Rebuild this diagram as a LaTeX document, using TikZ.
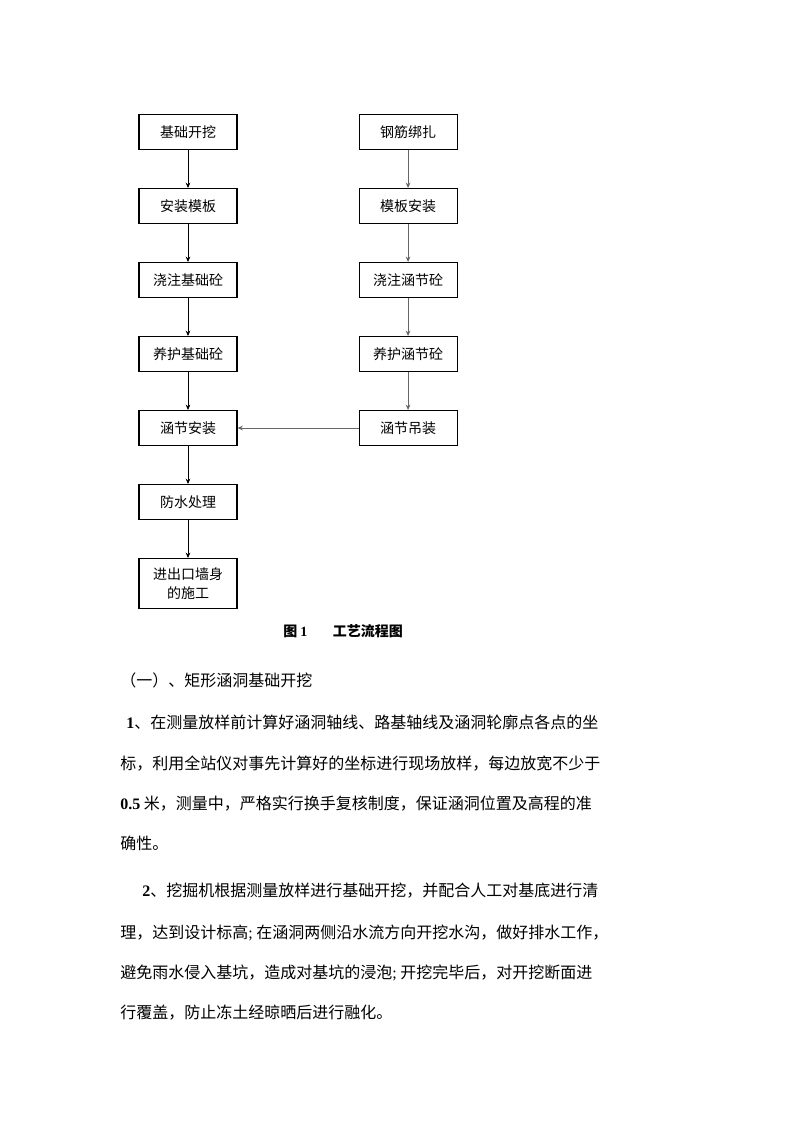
\documentclass[tikz,border=0pt]{standalone}
\usepackage{fontspec}
\setmainfont{Noto Sans CJK SC}
\newfontfamily\numfont{Liberation Serif}
\usetikzlibrary{arrows.meta, positioning}

\begin{document}
\begin{tikzpicture}[
  x=0.75pt, y=-0.75pt,
  node distance=28.45pt and 90.75pt,
  procbox/.style={rectangle, draw, line width=0.8pt, minimum width=73.5pt, minimum height=26.25pt, inner sep=2pt, align=center, font=\fontsize{10.5pt}{14pt}\selectfont},
  arrow/.style={-{Stealth[length=4pt, width=3.5pt]}, line width=0.6pt},
  garrow/.style={arrow, black!60},
  bodyline/.style={anchor=base west, inner sep=0pt, font=\fontsize{12pt}{14pt}\selectfont}
]
  \useasboundingbox (0,0) rectangle (794,1123);

  % left column
  \node[procbox] (jckw) at (188,132) {基础开挖};
  \node[procbox, below=of jckw] (azmb) {安装模板};
  \node[procbox, below=of azmb] (jzjc) {浇注基础砼};
  \node[procbox, below=of jzjc] (yhjc) {养护基础砼};
  \node[procbox, below=of yhjc] (hjaz) {涵节安装};
  \node[procbox, below=of hjaz] (fscl) {防水处理};
  \node[procbox, below=of fscl, minimum height=37.5pt] (jckq) {进出口墙身\\的施工};

  % right column
  \node[procbox, right=of jckw] (gjbz) {钢筋绑扎};
  \node[procbox, below=of gjbz] (mbaz) {模板安装};
  \node[procbox, below=of mbaz] (jzhj) {浇注涵节砼};
  \node[procbox, below=of jzhj] (yhhj) {养护涵节砼};
  \node[procbox, below=of yhhj] (hjdz) {涵节吊装};

  \draw[arrow] (jckw) -- (azmb);
  \draw[arrow] (azmb) -- (jzjc);
  \draw[arrow] (jzjc) -- (yhjc);
  \draw[arrow] (yhjc) -- (hjaz);
  \draw[arrow] (hjaz) -- (fscl);
  \draw[arrow] (fscl) -- (jckq);
  \draw[garrow] (gjbz) -- (mbaz);
  \draw[garrow] (mbaz) -- (jzhj);
  \draw[garrow] (jzhj) -- (yhhj);
  \draw[garrow] (yhhj) -- (hjdz);
  \draw[garrow] (hjdz) -- (hjaz);

  % caption
  \node[anchor=base west, inner sep=0pt, font=\fontsize{10.5pt}{14pt}\selectfont\bfseries] (cap) at (283,636) {图 {\numfont 1}\hspace{19pt}工艺流程图};

  % text below
  \node[bodyline] (h1) at (120,686) {（一）、矩形涵洞基础开挖};
  \node[bodyline] (p1a) at (126,728) {{\numfont\bfseries 1}、在测量放样前计算好涵洞轴线、路基轴线及涵洞轮廓点各点的坐};
  \node[bodyline] (p1b) at (120,769) {标，利用全站仪对事先计算好的坐标进行现场放样，每边放宽不少于};
  \node[bodyline] (p1c) at (120,809) {{\numfont\bfseries 0.5} 米，测量中，严格实行换手复核制度，保证涵洞位置及高程的准};
  \node[bodyline] (p1d) at (120,849) {确性。};
  \node[bodyline] (p2a) at (142,896) {{\numfont\bfseries 2}、挖掘机根据测量放样进行基础开挖，并配合人工对基底进行清};
  \node[bodyline] (p2b) at (120,938) {理，达到设计标高{\numfont;} 在涵洞两侧沿水流方向开挖水沟，做好排水工作，};
  \node[bodyline] (p2c) at (120,978) {避免雨水侵入基坑，造成对基坑的浸泡{\numfont;} 开挖完毕后，对开挖断面进};
  \node[bodyline] (p2d) at (120,1018) {行覆盖，防止冻土经晾晒后进行融化。};
\end{tikzpicture}
\end{document}
